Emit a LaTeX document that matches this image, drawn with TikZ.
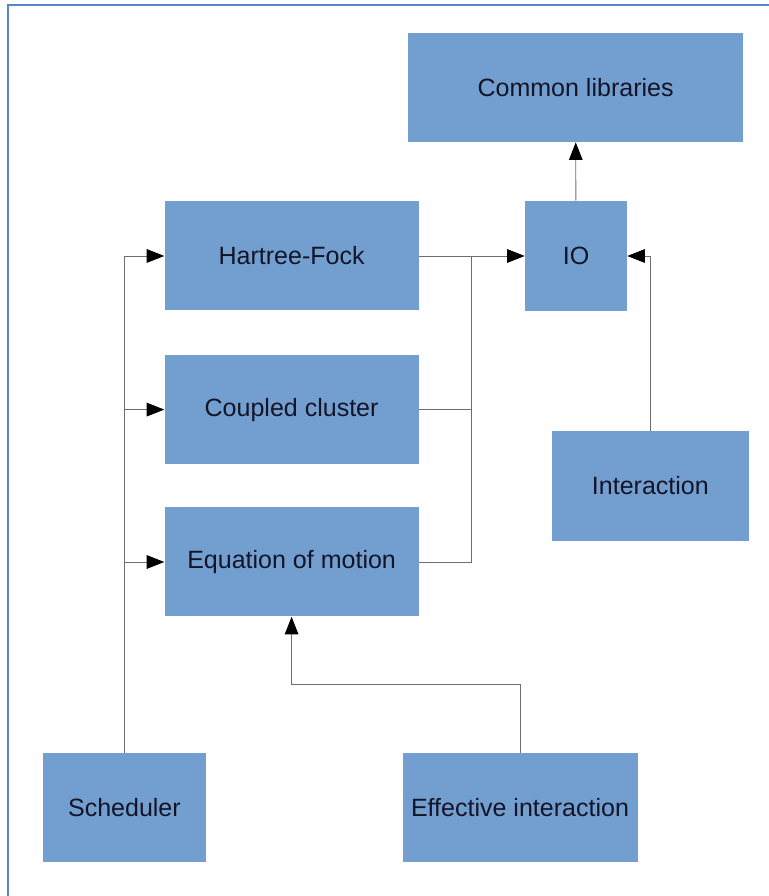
\documentclass[tikz,border=0pt]{standalone}
\usepackage{xcolor}
\usepackage{fontspec}
\setmainfont{Liberation Sans}
\usepackage{tikz}
\usetikzlibrary{arrows.meta}
\definecolor{boxblue}{HTML}{729FCF}
\definecolor{framblue}{HTML}{5B86C5}
\definecolor{linegray}{HTML}{6E6E6E}
\definecolor{textnavy}{HTML}{141428}

\begin{document}
\begin{tikzpicture}[
    block/.style={fill=boxblue, text=textnavy, inner sep=0pt,
      font=\fontsize{17.8}{20}\selectfont},
    wire/.style={draw=linegray, line width=0.6pt},
    >={Triangle[length=4.4mm,width=3.4mm,fill=black,color=black]}
  ]
    \useasboundingbox (0,0) rectangle (19.225,22.4);
    \draw[framblue, line width=1.6pt] (0.2,0) -- (0.2,22.275) -- (19.225,22.275);
    \node[block, minimum width=8.375cm, minimum height=2.725cm] (lib) at (14.39,20.21) {Common libraries};
    \node[block, minimum width=2.55cm, minimum height=2.75cm] (io) at (14.4,16.0) {IO};
    \node[block, minimum width=6.35cm, minimum height=2.725cm] (hf) at (7.29,16.0) {Hartree-Fock};
    \node[block, minimum width=6.35cm, minimum height=2.725cm] (cc) at (7.29,12.16) {Coupled cluster};
    \node[block, minimum width=6.35cm, minimum height=2.725cm] (eom) at (7.29,8.35) {Equation of motion};
    \node[block, minimum width=4.925cm, minimum height=2.75cm] (inter) at (16.26,10.25) {Interaction};
    \node[block, minimum width=4.075cm, minimum height=2.725cm] (sched) at (3.11,2.21) {Scheduler};
    \node[block, minimum width=5.875cm, minimum height=2.725cm] (eff) at (13.0,2.21) {Effective interaction};
    \coordinate (join) at (11.78,16.0);
    \coordinate (bend) at (7.29,5.28);
    \draw[wire, ->] (sched) |- (hf);
    \draw[wire, ->] (sched) |- (cc);
    \draw[wire, ->] (sched) |- (eom);
    \draw[wire, ->] (hf) -- (io);
    \draw[wire] (cc) -| (join);
    \draw[wire] (eom) -| (join);
    \draw[wire, ->] (io) -- (lib);
    \draw[wire, ->] (inter) |- (io);
    \draw[wire, ->] (eff) |- (bend) -- (eom);
  \end{tikzpicture}
\end{document}
